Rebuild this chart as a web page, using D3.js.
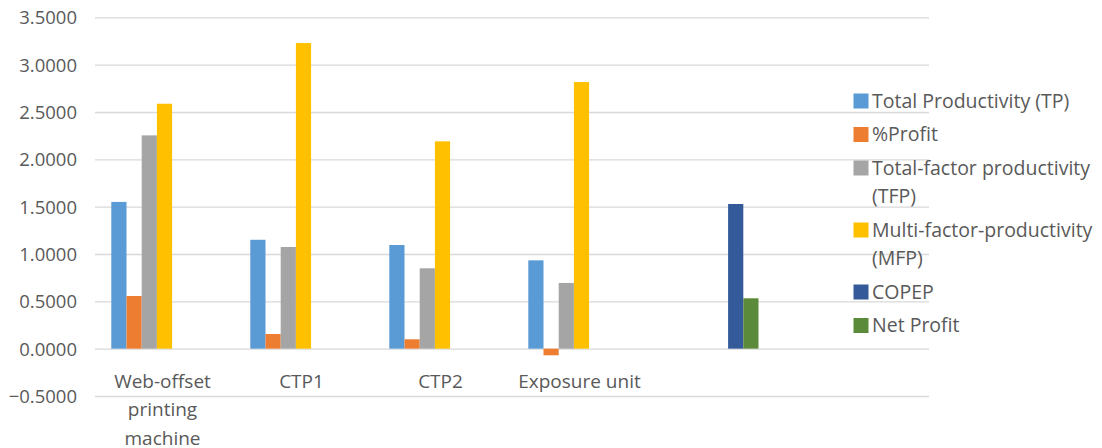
<!DOCTYPE html>
<html><head><meta charset="utf-8">
<script src="https://cdn.jsdelivr.net/npm/d3@7"></script>
<style>
body{margin:0;background:#fff;}
text{font-family:"Open Sans",sans-serif;fill:#595959;}
</style></head>
<body><svg id="c" width="1102" height="448"></svg>
<script>
const categories = ["Web-offset printing machine","CTP1","CTP2","Exposure unit","",""];
const seriesNames = ["Total Productivity (TP)","%Profit","Total-factor productivity (TFP)","Multi-factor-productivity (MFP)","COPEP","Net Profit"];
const seriesColors = ["#5B9BD5","#ED7D31","#A5A5A5","#FFC000","#355A9A","#5B8B3A"];
const tp   = [1.55, 1.15, 1.095, 0.933, null, null];
const prof = [0.556, 0.155, 0.099, -0.07, null, null];
const tfp  = [2.253, 1.074, 0.849, 0.694, null, null];
const mfp  = [2.587, 3.228, 2.19, 2.816, null, null];
const copep = [null, null, null, null, 1.528, null];
const netProfit = [null, null, null, null, 0.532, null];
const yTicks = [-0.5,0,0.5,1,1.5,2,2.5,3,3.5];

const seriesValues = [tp, prof, tfp, mfp, copep, netProfit];
const svg = d3.select("#c");
const mLeft = 95, mRight = 929, mTop = 17.3, mBottom = 396;
const keys = categories.map((c,i)=>i);
const x0 = d3.scaleBand().domain(keys).range([mLeft,mRight]).paddingInner(0.2345).paddingOuter(0.11725);
const x1 = d3.scaleBand().domain(d3.range(7)).range([0,x0.bandwidth()]);
const y = d3.scaleLinear().domain([-0.5,3.5]).range([mBottom,mTop]);

// gridlines + y labels
const ax = d3.axisLeft(y).tickValues(yTicks).tickFormat(d3.format(".4f")).tickSize(-(mRight-mLeft)).tickPadding(18);
const g = svg.append("g").attr("transform",`translate(${mLeft},0)`).call(ax);
g.select(".domain").remove();
g.selectAll(".tick line").attr("stroke","#D9D9D9").attr("stroke-width",1.3);
g.selectAll(".tick text").style("font-size","18.5px").attr("fill","#595959").attr("dy","0.35em");

// bars
seriesValues.forEach((vals,si)=>{
  svg.append("g").selectAll("rect").data(vals.map((v,ci)=>({v,ci})).filter(d=>d.v!=null))
    .join("rect")
    .attr("x",d=>x0(d.ci)+x1(si))
    .attr("width",x1.bandwidth())
    .attr("y",d=>y(Math.max(0,d.v)))
    .attr("height",d=>Math.abs(y(d.v)-y(0)))
    .attr("fill",seriesColors[si]);
});

// category labels
function wrapLines(text, width, fontSize){
  const words = text.split(/\s+/).filter(w=>w);
  const tmp = svg.append("text").style("font-size",fontSize+"px");
  const lines=[]; let cur="";
  words.forEach(w=>{
    const t = cur? cur+" "+w : w;
    tmp.text(t);
    if(tmp.node().getComputedTextLength()>width && cur){ lines.push(cur); cur=w; } else cur=t;
  });
  if(cur) lines.push(cur);
  tmp.remove();
  return lines;
}
categories.forEach((c,i)=>{
  if(!c) return;
  const lines = wrapLines(c, x0.step()-10, 19);
  const cx = x0(i)+x1.step()*3.5 - 2;
  const t = svg.append("text").attr("text-anchor","middle").style("font-size","19px")
    .attr("x", cx).attr("y",381.5);
  lines.forEach((l,k)=>t.append("tspan").attr("x",cx).attr("dy",k?"28.3":"0.35em").text(l));
});

// legend
const lg = svg.append("g");
let ly = 101;
seriesNames.forEach((n,i)=>{
  const lines = wrapLines(n, 229, 19.5);
  lg.append("rect").attr("x",853.5).attr("y",ly-7.5).attr("width",15).attr("height",15).attr("fill",seriesColors[i]);
  const t = lg.append("text").style("font-size","19.5px").attr("x",872).attr("y",ly);
  lines.forEach((l,k)=>t.append("tspan").attr("x",872).attr("dy",k?"28.5":"0.35em").text(l));
  ly += 33.5 + (lines.length-1)*28.5;
});
</script></body></html>
